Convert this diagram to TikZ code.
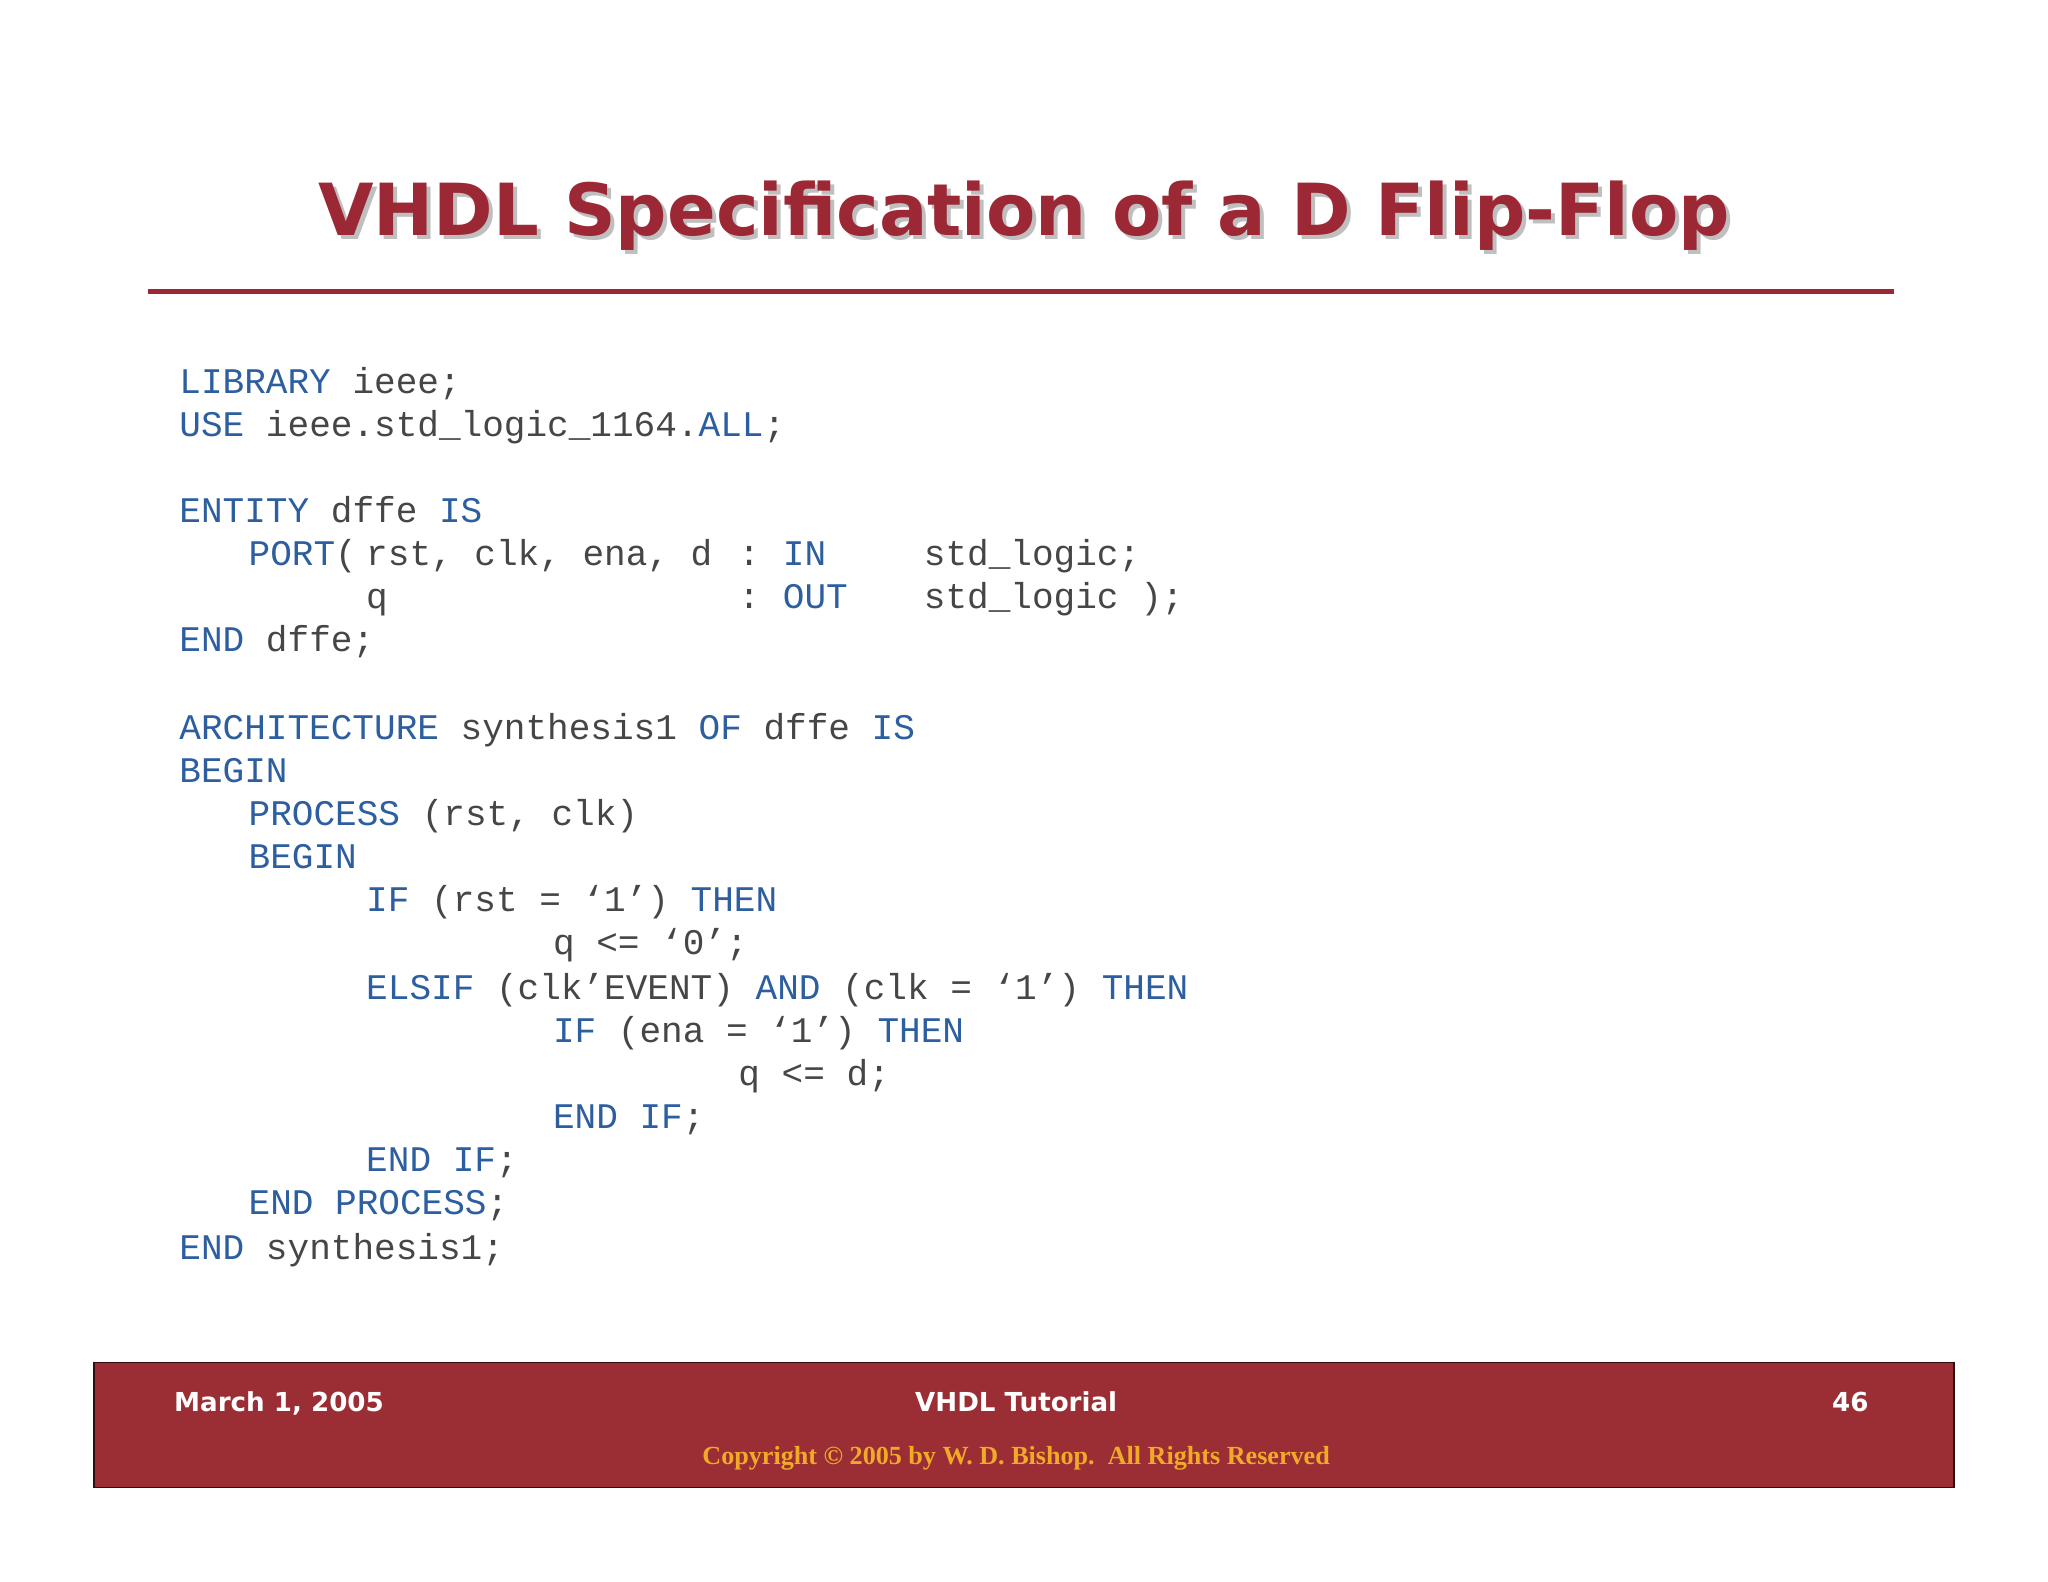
\documentclass[tikz,border=0pt]{standalone}
\usepackage{fontspec}
\setmainfont{Liberation Serif}
\setsansfont{DejaVu Sans}
\setmonofont{Liberation Mono}
\definecolor{kw}{RGB}{45,95,160}
\definecolor{tx}{RGB}{70,70,70}
\definecolor{ttl}{RGB}{155,40,52}
\definecolor{bar}{RGB}{155,45,52}
\definecolor{cpy}{RGB}{240,170,40}
\tikzset{
 code/.style={anchor=base west,inner sep=0pt,font=\ttfamily\fontsize{13.8pt}{16pt}\selectfont,text=tx},
 foot/.style={inner sep=0pt,anchor=base,font=\sffamily\bfseries\fontsize{10pt}{12pt}\selectfont,text=white},
 ttlfont/.style={anchor=base,inner sep=0pt,font=\sffamily\bfseries\fontsize{27.5pt}{32pt}\selectfont}
}
\newcommand{\K}[1]{\textcolor{kw}{#1}}
\begin{document}
\begin{tikzpicture}[x=0.5pt,y=-0.5pt]
\useasboundingbox[fill=white] (0,0) rectangle (1568,1211);
% title
\node[ttlfont,text=black!25] (tsh) at (787,183) {VHDL Specification of a D Flip-Flop};
\node[ttlfont,text=ttl] (title) at (784,180) {VHDL Specification of a D Flip-Flop};
\draw[ttl,line width=2pt] (113,223) -- (1450,223);
% code
\node[code] (l1) at (137,301) {\K{LIBRARY} ieee;};
\node[code] (l2) at (137,334) {\K{USE} ieee.std\_logic\_1164.\K{ALL};};
\node[code] (l3) at (137,400) {\K{ENTITY} dffe \K{IS}};
\node[code] (l4a) at (190,433) {\K{PORT}(};
\node[code] (l4b) at (280,433) {rst, clk, ena, d};
\node[code] (l4c) at (565,433) {:};
\node[code] (l4d) at (599,433) {\K{IN}};
\node[code] (l4e) at (707,433) {std\_logic;};
\node[code] (l5a) at (280,466) {q};
\node[code] (l5c) at (565,466) {:};
\node[code] (l5d) at (599,466) {\K{OUT}};
\node[code] (l5e) at (707,466) {std\_logic );};
\node[code] (l6) at (137,499) {\K{END} dffe;};
\node[code] (l7) at (137,566) {\K{ARCHITECTURE} synthesis1 \K{OF} dffe \K{IS}};
\node[code] (l8) at (137,599) {\K{BEGIN}};
\node[code] (l9) at (190,632) {\K{PROCESS} (rst, clk)};
\node[code] (l10) at (190,665) {\K{BEGIN}};
\node[code] (l11) at (280,698) {\K{IF} (rst = ‘1’) \K{THEN}};
\node[code] (l12) at (423,731) {q <= ‘0’;};
\node[code] (l13) at (280,765) {\K{ELSIF} (clk’EVENT) \K{AND} (clk = ‘1’) \K{THEN}};
\node[code] (l14) at (423,798) {\K{IF} (ena = ‘1’) \K{THEN}};
\node[code] (l15) at (565,831) {q <= d;};
\node[code] (l16) at (423,864) {\K{END IF};};
\node[code] (l17) at (280,897) {\K{END IF};};
\node[code] (l18) at (190,930) {\K{END PROCESS};};
\node[code] (l19) at (137,964) {\K{END} synthesis1;};
% footer
\fill[bar,draw=black!70!bar,line width=0.6pt] (72,1043) rectangle (1496,1139);
\node[foot,anchor=base west] (date) at (133,1081) {March 1, 2005};
\node[foot] (tut) at (778,1081) {VHDL Tutorial};
\node[foot,anchor=base east] (pg) at (1431,1081) {46};
\node[anchor=base,inner sep=0pt,font=\rmfamily\bfseries\fontsize{10pt}{12pt}\selectfont,text=cpy] (copy) at (778,1121) {Copyright \textcopyright{} 2005 by W. D. Bishop.\ \ All Rights Reserved};
\end{tikzpicture}
\end{document}
